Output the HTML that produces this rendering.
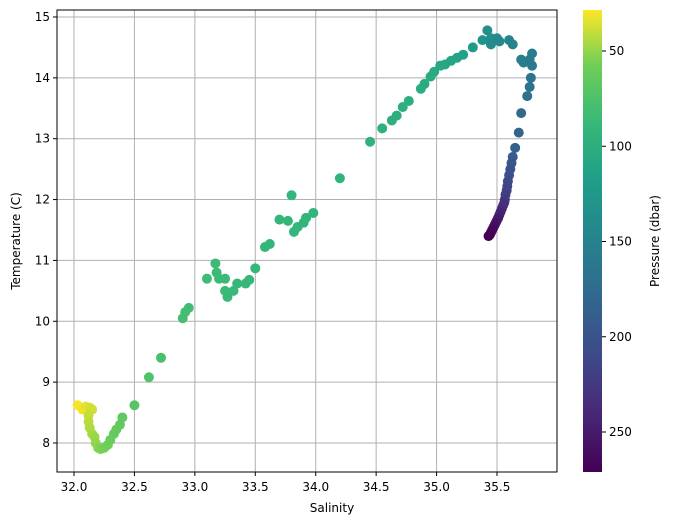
<!DOCTYPE html>
<html><head><meta charset="utf-8"><style>
body{margin:0;background:#fff;font-family:"DejaVu Sans","Liberation Sans",sans-serif}
svg text{font-family:"DejaVu Sans","Liberation Sans",sans-serif;font-size:12px;fill:#000}
</style></head><body>
<svg id="c" width="673" height="525">
<defs><linearGradient id="vir" x1="0" y1="1" x2="0" y2="0">
<stop offset="0" stop-color="#440154"/><stop offset="0.13" stop-color="#482878"/><stop offset="0.25" stop-color="#3e4989"/><stop offset="0.38" stop-color="#31688e"/><stop offset="0.5" stop-color="#26828e"/><stop offset="0.63" stop-color="#1f9e89"/><stop offset="0.75" stop-color="#35b779"/><stop offset="0.88" stop-color="#6ece58"/><stop offset="1" stop-color="#fde725"/></linearGradient></defs>
<g id="grid"></g><g id="pts"></g>
<rect x="57" y="10" width="500" height="462" fill="none" stroke="#000"/>
<g id="ax"></g>
<rect x="583" y="10" width="19" height="462" fill="url(#vir)" stroke="none"/>
<text x="332" y="512" text-anchor="middle">Salinity</text>
<text transform="translate(20,241) rotate(-90)" text-anchor="middle">Temperature (C)</text>
<text transform="translate(659,241) rotate(-90)" text-anchor="middle">Pressure (dbar)</text>
</svg>
<script>
const salinity=[32.03,32.07,32.10,32.13,32.15,32.12,32.12,32.13,32.15,32.17,32.18,32.2,32.22,32.25,32.28,32.3,32.33,32.35,32.38,32.4,32.5,32.62,32.72,32.9,32.92,32.95,33.1,33.17,33.18,33.2,33.25,33.25,33.27,33.32,33.35,33.42,33.45,33.5,33.58,33.62,33.7,33.77,33.8,33.82,33.85,33.9,33.92,33.98,34.2,34.45,34.55,34.63,34.67,34.72,34.77,34.87,34.9,34.95,34.98,35.03,35.07,35.12,35.17,35.22,35.3,35.38,35.42,35.45,35.45,35.5,35.52,35.6,35.63,35.7,35.72,35.77,35.79,35.79,35.78,35.77,35.75,35.7,35.68,35.65,35.63,
35.62,35.61,35.60,35.59,35.585,35.58,35.57,35.565,35.56,35.55,35.54,35.53,35.52,35.51,35.50,35.49,35.48,35.47,35.46,35.45,35.44,35.43];
const temperature=[8.62,8.55,8.6,8.58,8.55,8.45,8.35,8.25,8.15,8.1,8.0,7.92,7.9,7.92,7.97,8.05,8.15,8.22,8.3,8.42,8.62,9.08,9.4,10.05,10.15,10.22,10.7,10.95,10.8,10.7,10.7,10.5,10.4,10.5,10.62,10.62,10.68,10.87,11.22,11.27,11.67,11.65,12.07,11.47,11.55,11.62,11.7,11.78,12.35,12.95,13.17,13.3,13.38,13.52,13.62,13.82,13.9,14.02,14.1,14.2,14.22,14.28,14.33,14.38,14.5,14.62,14.78,14.65,14.55,14.65,14.6,14.62,14.55,14.3,14.25,14.3,14.4,14.2,14.0,13.85,13.7,13.42,13.1,12.85,12.7,
12.6,12.5,12.4,12.3,12.22,12.15,12.08,12.0,11.95,11.9,11.85,11.8,11.75,11.7,11.66,11.62,11.58,11.54,11.5,11.46,11.42,11.4];
const pressure=[30,32,34,36,38,40,42,44,46,48,50,52,54,56,58,60,62,63,64,66,70,74,77,80,81,82,84,85,85,86,86,86,87,87,88,88,89,89,90,90,91,91,92,92,92,93,93,93,94,96,97,98,98,99,100,101,102,103,104,106,108,110,112,114,120,128,133,136,138,141,143,147,150,152,154,156,158,160,163,166,169,175,182,187,192,
196,200,204,208,212,216,220,224,228,232,236,240,244,248,252,255,258,261,264,267,269,271];
const xTicks=[32.0,32.5,33.0,33.5,34.0,34.5,35.0,35.5];
const yTicks=[8,9,10,11,12,13,14,15];
const cTicks=[50,100,150,200,250];
const NS="http://www.w3.org/2000/svg";
const X=v=>74+(v-32)*120.86, Y=v=>443-(v-8)*60.86, C=p=>51+(p-50)*1.905;
const stops=[[68,1,84],[72,40,120],[62,73,137],[49,104,142],[38,130,142],[31,158,137],[53,183,121],[110,206,88],[253,231,37]];
const offs=[0,0.13,0.25,0.38,0.5,0.63,0.75,0.88,1];
function col(p){let t=(271-p)/(271-28.5);t=Math.max(0,Math.min(1,t));let i=0;while(i<offs.length-2&&t>offs[i+1])i++;const f=(t-offs[i])/(offs[i+1]-offs[i]);const a=stops[i],b=stops[i+1];return`rgb(${a.map((v,k)=>Math.round(v+(b[k]-v)*f)).join(',')})`;}
function mk(tag,at,parent){const e=document.createElementNS(NS,tag);for(const k in at)e.setAttribute(k,at[k]);parent.appendChild(e);return e;}
const g=document.getElementById('grid'),ax=document.getElementById('ax'),pts=document.getElementById('pts');
xTicks.forEach(v=>{const x=X(v);
const l=mk('line',{x1:x,x2:x,y1:10,y2:472,stroke:'#b0b0b0','stroke-width':1},g);

mk('line',{x1:x,x2:x,y1:472,y2:476,stroke:'#000'},ax);
const t=mk('text',{x:x,y:491,'text-anchor':'middle'},ax);t.textContent=v.toFixed(1);
});
yTicks.forEach(v=>{const y=Y(v);
const l=mk('line',{x1:57,x2:557,y1:y,y2:y,stroke:'#b0b0b0','stroke-width':1},g);

mk('line',{x1:53,x2:57,y1:y,y2:y,stroke:'#000'},ax);
const t=mk('text',{x:50,y:y+4,'text-anchor':'end'},ax);t.textContent=v;
});
cTicks.forEach(v=>{const y=C(v);
mk('line',{x1:602,x2:606,y1:y,y2:y,stroke:'#000'},ax);
const t=mk('text',{x:609,y:y+4},ax);t.textContent=v;
});
salinity.forEach((s,i)=>{const c=mk('circle',{cx:X(s),cy:Y(temperature[i]),r:5,fill:col(pressure[i])},pts);
});
</script>
</body></html>
